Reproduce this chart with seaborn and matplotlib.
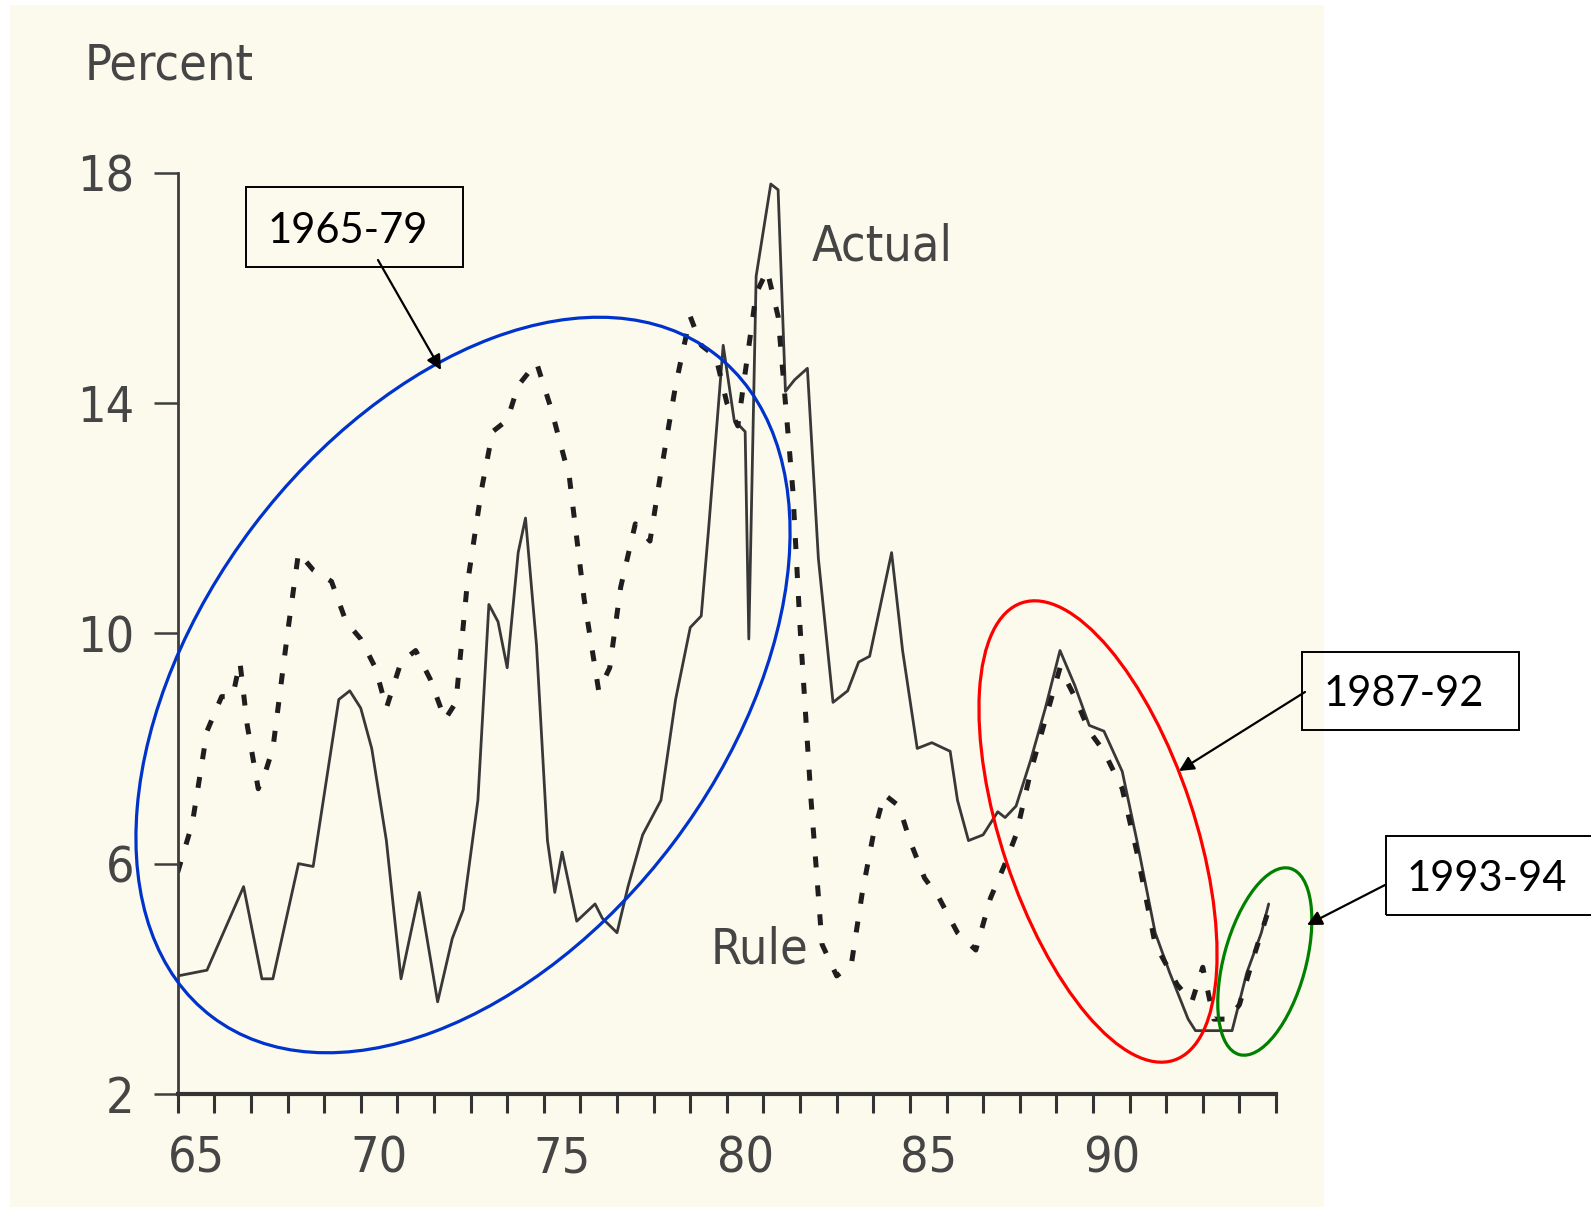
import matplotlib
matplotlib.use('Agg')
import matplotlib.pyplot as plt
import seaborn as sns
from matplotlib import font_manager
from matplotlib.patches import Rectangle, Ellipse, FancyArrowPatch
from matplotlib.transforms import IdentityTransform

# Actual federal funds rate (year within 1900s, percent)
actual_year = [65.0, 65.8, 66.8, 67.3, 67.6, 68.3, 68.7, 69.4, 69.7, 70.0, 70.3, 70.7,
               71.1, 71.6, 72.1, 72.5, 72.8, 73.2, 73.5, 73.75, 74.0, 74.3, 74.5, 74.8,
               75.1, 75.3, 75.5, 75.9, 76.4, 76.6, 77.0, 77.3, 77.7, 78.2, 78.6, 79.0,
               79.3, 79.5, 79.9, 80.2, 80.5, 80.6, 80.8, 81.2, 81.4, 81.6, 81.85, 82.2,
               82.5, 82.9, 83.3, 83.6, 83.9, 84.5, 84.8, 85.2, 85.6, 86.1, 86.3, 86.6,
               87.0, 87.4, 87.6, 87.9, 88.3, 88.7, 89.1, 89.5, 89.9, 90.3, 90.8, 91.2,
               91.7, 92.1, 92.6, 92.8, 93.8, 94.2, 94.6, 94.8]
actual_rate = [4.05, 4.15, 5.6, 4.0, 4.0, 6.0, 5.95, 8.85, 9.0, 8.7, 8.0, 6.4,
               4.0, 5.5, 3.6, 4.7, 5.2, 7.1, 10.5, 10.2, 9.4, 11.4, 12.0, 9.8,
               6.4, 5.5, 6.2, 5.0, 5.3, 5.05, 4.8, 5.6, 6.5, 7.1, 8.85, 10.1,
               10.3, 11.8, 15.0, 13.7, 13.5, 9.9, 16.2, 17.8, 17.7, 14.2, 14.4, 14.6,
               11.3, 8.8, 9.0, 9.5, 9.6, 11.4, 9.7, 8.0, 8.1, 7.95, 7.1, 6.4,
               6.5, 6.9, 6.8, 7.0, 7.8, 8.7, 9.7, 9.1, 8.4, 8.3, 7.6, 6.4,
               4.8, 4.1, 3.3, 3.1, 3.1, 4.1, 4.8, 5.3]

# Taylor rule rate
rule_year = [65.0, 65.4, 65.8, 66.2, 66.5, 66.7, 66.9, 67.2, 67.4, 67.6, 68.0, 68.3,
             68.7, 69.2, 69.6, 70.0, 70.4, 70.7, 71.1, 71.5, 71.9, 72.3, 72.6, 72.9,
             73.3, 73.6, 74.0, 74.3, 74.8, 75.2, 75.7, 76.1, 76.5, 76.8, 77.1, 77.5,
             77.9, 78.2, 78.6, 79.0, 79.3, 79.7, 80.0, 80.3, 80.8, 81.1, 81.4, 81.6,
             81.8, 82.0, 82.3, 82.6, 83.0, 83.4, 83.7, 84.0, 84.3, 84.7, 85.0, 85.4,
             85.8, 86.3, 86.8, 87.2, 87.6, 87.9, 88.3, 88.7, 89.1, 89.5, 89.9, 90.3,
             90.8, 91.2, 91.7, 92.3, 92.7, 93.0, 93.3, 93.7, 94.0, 94.4, 94.8]
rule_rate = [5.85, 6.7, 8.3, 8.9, 8.9, 9.5, 8.4, 7.3, 7.6, 8.0, 10.0, 11.4,
             11.1, 10.9, 10.2, 9.9, 9.4, 8.7, 9.5, 9.7, 9.2, 8.5, 8.8, 10.8,
             12.5, 13.5, 13.7, 14.3, 14.7, 13.9, 12.7, 10.6, 9.0, 9.4, 10.8, 11.9,
             11.6, 12.8, 14.3, 15.5, 15.0, 14.8, 14.0, 13.6, 15.9, 16.3, 15.5, 14.0,
             12.5, 10.1, 7.1, 4.6, 4.05, 4.25, 5.5, 6.5, 7.2, 7.0, 6.4, 5.75,
             5.4, 4.8, 4.5, 5.4, 6.0, 6.5, 7.6, 8.5, 9.4, 8.9, 8.3, 7.95,
             7.3, 6.2, 4.6, 3.9, 3.6, 4.2, 3.3, 3.3, 3.55, 4.4, 5.2]

y_ticks = [2, 6, 10, 14, 18]
x_major = list(range(65, 96))
x_label_pos = [65.5, 70.5, 75.5, 80.5, 85.5, 90.5]
x_labels = ['65', '70', '75', '80', '85', '90']

sns.set_style('ticks')

# the scanned chart uses a condensed sans; use one if it is on the system
names = {f.name for f in font_manager.fontManager.ttflist}
scan_kw = {'family': 'Liberation Sans', 'stretch': 'normal'}
scan_size = 33
if 'Liberation Sans Narrow' in names:
    scan_kw = {'family': 'Liberation Sans Narrow', 'stretch': 'normal'}
    scan_size = 38
else:
    fp = font_manager.FontProperties(family='DejaVu Sans', stretch='condensed')
    if 'Condensed' in font_manager.findfont(fp, fallback_to_default=True):
        scan_kw = {'family': 'DejaVu Sans', 'stretch': 'condensed'}
        scan_size = 36
box_font = 'Lato'
ink = '#454545'

W, H = 1591, 1212
fig = plt.figure(figsize=(W / 100, H / 100), dpi=100)
fig.patch.set_facecolor('white')
px = IdentityTransform()


def P(x, y):
    # pixel coords measured from top-left
    return (x, H - y)


# scanned page background
fig.add_artist(Rectangle(P(10, 1207), 1314, 1202, transform=px,
                         facecolor='#FCFAEC', edgecolor='none', zorder=0))

ax = fig.add_axes([177.7 / W, 1 - 1094 / H, (1276 - 177.7) / W, (1094 - 172.5) / H])
ax.set_facecolor('none')

sns.lineplot(x=actual_year, y=actual_rate, ax=ax, color='#383838', linewidth=2.0)
sns.lineplot(x=rule_year, y=rule_rate, ax=ax, color='#1e1e1e', linewidth=3.6,
             linestyle=(0, (2.2, 3.6)))

ax.set_xlim(65, 95)
ax.set_ylim(2, 18)
for s in ['top', 'right']:
    ax.spines[s].set_visible(False)
ax.spines['left'].set_color('#3d3d3d')
ax.spines['left'].set_linewidth(2.0)
ax.spines['bottom'].set_color('#333333')
ax.spines['bottom'].set_linewidth(3.0)

ax.set_yticks(y_ticks)
ax.set_yticklabels([str(v) for v in y_ticks])
ax.tick_params(axis='y', left=True, direction='out', length=17, width=1.8, color='#3d3d3d',
               pad=14, labelsize=scan_size, labelcolor=ink)
ax.set_xticks(x_major)
ax.set_xticklabels([])
ax.tick_params(axis='x', which='major', bottom=True, direction='out', length=14, width=2.2,
               color='#333333')
ax.set_xticks(x_label_pos, minor=True)
ax.set_xticklabels(x_labels, minor=True)
ax.tick_params(axis='x', which='minor', bottom=True, length=0, pad=29, labelsize=scan_size,
               labelcolor=ink)
for lab in ax.get_xticklabels(minor=True) + ax.get_yticklabels():
    lab.set_fontfamily(scan_kw['family'])
    lab.set_fontstretch(scan_kw['stretch'])
ax.set_xlabel('')
ax.set_ylabel('')

# series labels from the scan
word_size = scan_size
ax.text(82.33, 16.48, 'Actual', fontsize=word_size, color=ink, va='baseline', **scan_kw)
ax.text(79.55, 4.26, 'Rule', fontsize=word_size, color=ink, va='baseline', **scan_kw)
fig.text(85, H - 80, 'Percent', transform=px, fontsize=word_size, color=ink,
         va='baseline', **scan_kw)

# highlighted periods
fig.add_artist(Ellipse(P(463, 685), 832, 526, angle=52.9, transform=px,
                       fill=False, edgecolor='#0033CC', linewidth=2.3, zorder=5))
fig.add_artist(Ellipse(P(1098, 831.5), 482, 193, angle=-71.6, transform=px,
                       fill=False, edgecolor='#FF0000', linewidth=2.3, zorder=5))
fig.add_artist(Ellipse(P(1264.8, 961.5), 193, 82, angle=74.7, transform=px,
                       fill=False, edgecolor='#008000', linewidth=2.3, zorder=5))

# callout boxes
boxes = [((246, 187, 463, 267), (268, 243), '1965-79', (378, 260), (441, 370)),
         ((1302, 652, 1519, 730), (1324, 706), '1987-92', (1305, 692), (1179, 771)),
         ((1386, 836, 1610, 915), (1407, 891), '1993-94', (1385, 885), (1307, 925))]
for (x0, y0, x1, y1), (tx, ty), label, a_from, a_to in boxes:
    fig.add_artist(Rectangle(P(x0, y1), x1 - x0, y1 - y0, transform=px,
                             fill=False, edgecolor='black', linewidth=1.4, zorder=6))
    fig.text(tx, H - ty, label, transform=px, fontsize=30, family=box_font,
             color='black', va='baseline', zorder=6)
    fig.add_artist(FancyArrowPatch(P(*a_from), P(*a_to), transform=px,
                                   arrowstyle='-|>', mutation_scale=22, linewidth=1.6,
                                   color='black', shrinkA=0, shrinkB=0, zorder=6))

fig.savefig('out.png', dpi=100, facecolor=fig.get_facecolor())
